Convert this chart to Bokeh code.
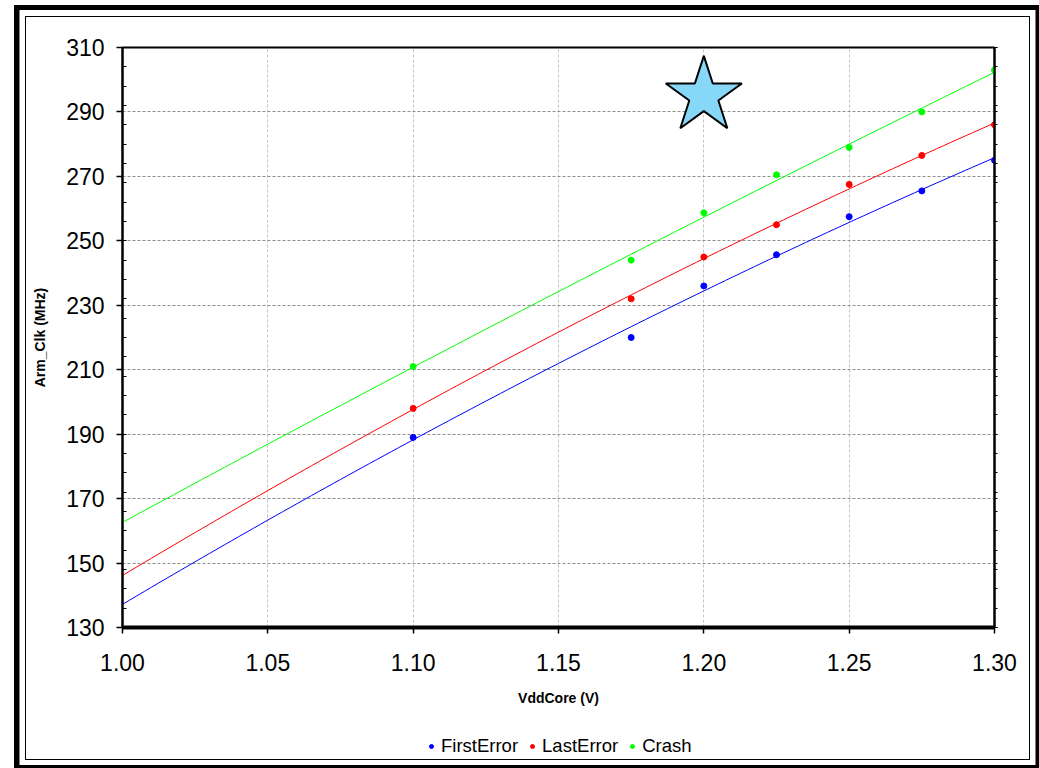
import numpy as np
from bokeh.plotting import figure
from bokeh.layouts import column
from bokeh.models import (ColumnDataSource, FixedTicker, Legend, LegendItem,
                          Range1d, NumeralTickFormatter, LinearAxis)
from bokeh.embed import file_html
from bokeh.resources import INLINE

# ---------------- data ----------------
vdd = [1.10, 1.175, 1.20, 1.225, 1.25, 1.275, 1.30]
first_error = [189.0, 220.0, 236.0, 245.7, 257.5, 265.5, 275.0]
last_error = [198.0, 232.0, 245.0, 255.0, 267.5, 276.5, 286.0]
crash = [211.0, 244.0, 258.7, 270.5, 279.0, 290.0, 303.0]
series_names = ["FirstError", "LastError", "Crash"]
series_colors = ["#0000FF", "#FF0000", "#00FF00"]
x_ticks = [1.00, 1.05, 1.10, 1.15, 1.20, 1.25, 1.30]
y_ticks = [130, 150, 170, 190, 210, 230, 250, 270, 290, 310]
y_minor = list(range(130, 311, 6))
star_x = [1.20]
star_y = [295.0]

FONT = "Liberation Sans"

# ---------------- main chart ----------------
p = figure(width=1003, height=712, output_backend="svg", toolbar_location=None,
           x_range=Range1d(1.0, 1.3), y_range=Range1d(130, 310),
           min_border_left=96, min_border_right=35, min_border_top=30,
           min_border_bottom=102)
p.background_fill_color = "white"
p.border_fill_color = "white"
p.outline_line_color = "black"
p.outline_line_width = 2

p.xaxis.ticker = FixedTicker(ticks=x_ticks)
p.xaxis.formatter = NumeralTickFormatter(format="0.00")
p.yaxis.ticker = FixedTicker(ticks=y_ticks, minor_ticks=y_minor)
for ax in (p.xaxis, p.yaxis):
    ax.major_label_text_font = FONT
    ax.major_label_text_font_size = "23px"
    ax.major_label_text_color = "black"
    ax.axis_label_text_font = FONT
    ax.axis_label_text_font_style = "bold"
    ax.axis_label_text_font_size = "14px"
    ax.axis_label_text_color = "black"
    ax.major_tick_in = 0
    ax.major_tick_out = 6
    ax.major_tick_line_color = "black"
    ax.major_tick_line_width = 1.5
p.xaxis.axis_label = "VddCore (V)"
p.yaxis.axis_label = "Arm_Clk (MHz)"
p.xaxis.axis_line_width = 4
p.yaxis.axis_line_width = 2
p.xaxis.minor_tick_line_color = None
p.yaxis.minor_tick_in = 4
p.yaxis.minor_tick_out = 0
p.yaxis.minor_tick_line_color = "black"
p.xaxis.major_label_standoff = 20
p.yaxis.major_label_standoff = 12
p.xaxis.axis_label_standoff = 16
p.yaxis.axis_label_standoff = 15

right_ax = LinearAxis(ticker=FixedTicker(ticks=y_ticks, minor_ticks=y_minor))
right_ax.major_label_text_alpha = 0
right_ax.major_label_text_font_size = "1px"
right_ax.major_tick_in = 0
right_ax.major_tick_out = 3
right_ax.minor_tick_in = 0
right_ax.minor_tick_out = 3
right_ax.axis_line_width = 2
p.add_layout(right_ax, "right")

p.xgrid.ticker = FixedTicker(ticks=x_ticks)
p.ygrid.ticker = FixedTicker(ticks=y_ticks)
p.xgrid.grid_line_color = "#c4c4c4"
p.xgrid.grid_line_dash = "3 2"
p.ygrid.grid_line_color = "#8f8f8f"
p.ygrid.grid_line_dash = "3 2"

# ---------------- legend strip ----------------
lf = figure(width=1003, height=30, output_backend="svg", toolbar_location=None,
            x_range=Range1d(0, 1), y_range=Range1d(0, 1),
            x_axis_location=None, y_axis_location=None,
            min_border_left=0, min_border_right=0, min_border_top=0,
            min_border_bottom=0)
lf.grid.visible = False
lf.outline_line_color = None
lf.background_fill_color = "white"
lf.border_fill_color = "white"

# trend lines (2nd order polynomial fit) + points
xs = np.linspace(1.0, 1.3, 121)
items = []
for name, ys, col in zip(series_names, [first_error, last_error, crash], series_colors):
    coef = np.polyfit(vdd, ys, 2)
    p.line(xs, np.polyval(coef, xs), line_color=col, line_width=1)
    src = ColumnDataSource(dict(x=vdd, y=ys))
    p.scatter("x", "y", source=src, size=6, fill_color=col, line_color=col)
    # same source, drawn outside the strip's ranges: only its legend swatch shows
    r = lf.scatter("x", "y", source=src, size=5, fill_color=col, line_color=col)
    items.append(LegendItem(label=name, renderers=[r]))

p.scatter(star_x, star_y, marker="star", size=80, fill_color="#87D7F9",
          line_color="black", line_width=2)

legend = Legend(items=items, orientation="horizontal", location=(304, 2),
                glyph_width=10, glyph_height=20, label_height=20,
                label_standoff=5, spacing=9, padding=0, margin=0,
                label_text_font=FONT, label_text_font_size="18.5px",
                label_text_color="black",
                border_line_alpha=0, background_fill_alpha=0)
lf.add_layout(legend, "center")

layout = column(p, lf, spacing=0)
layout.styles = {
    "margin-left": "25px",
    "margin-top": "16px",
    "border": "1px solid black",
    "box-shadow": "0 -0.5px 0 5.5px white, 0 0 0 11px black",
}

open("out.html", "w").write(file_html(layout, INLINE))
